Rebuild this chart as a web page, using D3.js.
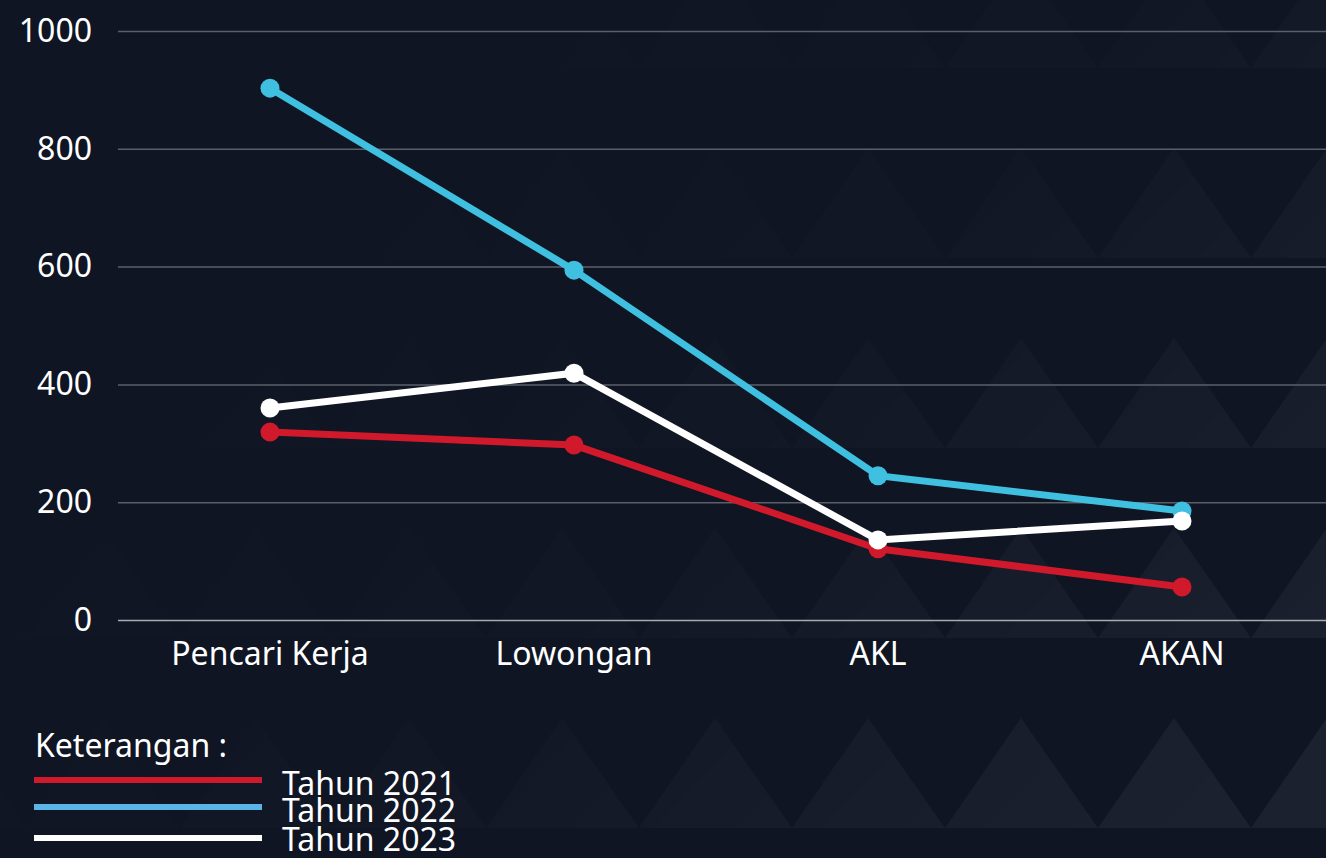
<!DOCTYPE html>
<html>
<head>
<meta charset="utf-8">
<script src="https://cdn.jsdelivr.net/npm/d3@7"></script>
<style>
  html, body { margin: 0; padding: 0; background: #0f1523; overflow: hidden; }
  text { font-family: "Noto Sans", "Open Sans", sans-serif; fill: #ffffff; }
</style>
</head>
<body>
<div id="figure"></div>
<script>
var categories = ["Pencari Kerja", "Lowongan", "AKL", "AKAN"];
var seriesNames = ["Tahun 2021", "Tahun 2022", "Tahun 2023"];
var values2021 = [319, 297, 121, 56];
var values2022 = [903, 594, 245, 185];
var values2023 = [360, 419, 136, 168];
var yTicks = [0, 200, 400, 600, 800, 1000];

var lineColors = ["#d0192b", "#40c0e0", "#ffffff"];
var legendColors = ["#d0192b", "#5ab4e5", "#ffffff"];

var w = 1326;
var h = 858;
var margin = { top: 31, left: 118, bottom: 238 };
var chartHeight = h - margin.top - margin.bottom;

var svg = d3.select('#figure')
  .append('svg')
  .attr('width', w)
  .attr('height', h);

// background with faint triangle pattern
var defs = svg.append('defs');
var pat = defs.append('pattern')
  .attr('id', 'tri')
  .attr('patternUnits', 'userSpaceOnUse')
  .attr('width', 153)
  .attr('height', 190)
  .attr('x', 27)
  .attr('y', 148);
pat.append('path')
  .attr('d', 'M0,110 L76,0 L153,110 Z')
  .attr('fill', '#ffffff');
var grad = defs.append('linearGradient')
  .attr('id', 'fade')
  .attr('gradientUnits', 'userSpaceOnUse')
  .attr('x1', 300).attr('y1', 0).attr('x2', 1200).attr('y2', 858);
grad.append('stop').attr('offset', '0%').attr('stop-color', '#000');
grad.append('stop').attr('offset', '50%').attr('stop-color', '#333');
grad.append('stop').attr('offset', '100%').attr('stop-color', '#fff');
defs.append('mask').attr('id', 'fadeMask')
  .append('rect').attr('width', w).attr('height', h).attr('fill', 'url(#fade)');

svg.append('rect').attr('width', w).attr('height', h).attr('fill', '#0f1523');
svg.append('rect').attr('width', w).attr('height', h)
  .attr('fill', 'url(#tri)')
  .attr('opacity', 0.05)
  .attr('mask', 'url(#fadeMask)');

// scales
var xScale = d3.scaleBand()
  .domain(categories)
  .range([margin.left, margin.left + 4 * 304]);

var yScale = d3.scaleLinear()
  .domain([0, 1000])
  .range([margin.top + chartHeight, margin.top]);

// gridlines
var grid = svg.append('g')
  .classed('gridlines', true)
  .attr('transform', 'translate(' + margin.left + ',0)')
  .call(d3.axisLeft(yScale).tickValues(yTicks).tickSize(-(w - margin.left)).tickFormat(''));
grid.select('.domain').remove();
grid.selectAll('line')
  .attr('stroke', function(d){ return d === 0 ? '#a9abb0' : '#5b5f68'; })
  .attr('stroke-width', 1.5);

// y axis labels
var yAxis = svg.append('g')
  .attr('transform', 'translate(' + (margin.left - 26) + ',0)')
  .call(d3.axisLeft(yScale).tickValues(yTicks).tickFormat(d3.format('d')).tickSize(0).tickPadding(0));
yAxis.select('.domain').remove();
yAxis.selectAll('text')
  .attr('font-size', 32)
  .attr('fill', '#fff')
  .style('font-family', '"Noto Sans", sans-serif');

// x axis labels
var xAxis = svg.append('g')
  .attr('transform', 'translate(0,' + (margin.top + chartHeight) + ')')
  .call(d3.axisBottom(xScale).tickSize(0).tickPadding(22));
xAxis.select('.domain').remove();
xAxis.selectAll('text')
  .attr('font-size', 32)
  .attr('fill', '#fff')
  .style('font-family', '"Noto Sans", sans-serif');

// lines
var series = [values2021, values2022, values2023];
var line = d3.line()
  .x(function(d, i){ return xScale(categories[i]) + xScale.bandwidth() / 2; })
  .y(function(d){ return yScale(d); });

series.forEach(function(vals, s){
  var g = svg.append('g').classed('series', true);
  g.append('path')
    .datum(vals)
    .attr('d', line)
    .attr('fill', 'none')
    .attr('stroke', lineColors[s])
    .attr('stroke-width', 7);
  g.selectAll('circle')
    .data(vals)
    .enter()
    .append('circle')
    .attr('cx', function(d, i){ return xScale(categories[i]) + xScale.bandwidth() / 2; })
    .attr('cy', function(d){ return yScale(d); })
    .attr('r', 9.5)
    .attr('fill', lineColors[s]);
});

// legend
var legend = svg.append('g').classed('legend', true);
legend.append('text')
  .attr('x', 35)
  .attr('y', 757)
  .attr('font-size', 32)
  .text('Keterangan :');

var legendY = [780, 807, 838];
var legendTextY = [795, 822, 851];
seriesNames.forEach(function(name, i){
  legend.append('line')
    .attr('x1', 34).attr('x2', 262)
    .attr('y1', legendY[i]).attr('y2', legendY[i])
    .attr('stroke', legendColors[i])
    .attr('stroke-width', 6);
  legend.append('text')
    .attr('x', 282)
    .attr('y', legendTextY[i])
    .attr('font-size', 32)
    .text(name);
});
</script>
</body>
</html>
